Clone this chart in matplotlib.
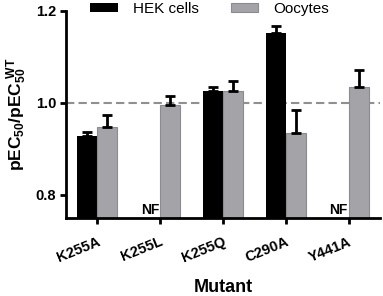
import matplotlib
matplotlib.use('Agg')
import matplotlib.pyplot as plt
import numpy as np

plt.rcParams['font.family'] = ['Liberation Sans', 'DejaVu Sans']
plt.rcParams['mathtext.fontset'] = 'custom'
plt.rcParams['mathtext.rm'] = 'Liberation Sans'
plt.rcParams['mathtext.bf'] = 'Liberation Sans:bold'

mutants = ['K255A', 'K255L', 'K255Q', 'C290A', 'Y441A']
hek = [0.928, np.nan, 1.026, 1.152, np.nan]
hek_err = [0.008, 0, 0.008, 0.015, 0]
oocytes = [0.948, 0.996, 1.026, 0.935, 1.035]
oocytes_err = [0.026, 0.019, 0.022, 0.05, 0.037]
nf_idx = [1, 4]

fig = plt.figure(figsize=(3.83, 2.96), dpi=100)
ax = fig.add_axes([0.172, 0.264, 0.82, 0.699])

x = np.arange(len(mutants))
w = 0.32
base = 0.75
hek_h = [v - base for v in hek]
ooc_h = [v - base for v in oocytes]

ax.bar(x - w/2, hek_h, w, bottom=base, color='black', label='HEK cells', zorder=2)
ax.bar(x + w/2, ooc_h, w, bottom=base, color='#a4a4a8', edgecolor='#8c8c90',
       linewidth=0.8, label='Oocytes', zorder=2)
ax.errorbar(x - w/2, hek, yerr=[np.zeros(5), hek_err], fmt='none', ecolor='black',
            elinewidth=2, capsize=3.6, capthick=2, zorder=3)
ax.errorbar(x + w/2, oocytes, yerr=[np.zeros(5), oocytes_err], fmt='none', ecolor='black',
            elinewidth=2, capsize=3.6, capthick=2, zorder=3)

for i in nf_idx:
    ax.text(i - w/2, base + 0.002, 'NF', ha='center', va='bottom',
            fontsize=10, fontweight='bold')

ax.axhline(1.0, color='#909090', linestyle=(0, (4, 2)), linewidth=1.5, zorder=1)

ax.set_xlim(-0.5, 4.5)
ax.set_ylim(0.75, 1.2)
ax.set_yticks([0.8, 1.0, 1.2])
ax.set_yticklabels(['0.8', '1.0', '1.2'], fontsize=10.5, fontweight='bold')
ax.set_xticks(x)
ax.set_xticklabels(mutants, fontsize=10.5, fontweight='bold', rotation=22,
                   ha='right', rotation_mode='anchor')

for s in ['top', 'right']:
    ax.spines[s].set_visible(False)
for s in ['left', 'bottom']:
    ax.spines[s].set_linewidth(2)
ax.tick_params(width=2, length=4, direction='out', pad=3)
ax.tick_params(axis='x', pad=8)

ax.set_ylabel(r'$\mathbf{pEC_{50}/pEC_{50}^{\ WT}}$', fontsize=12.5, labelpad=5)
ax.set_xlabel('Mutant', fontsize=13, fontweight='bold', labelpad=10)

ax.legend(loc='center left', bbox_to_anchor=(90/383, 1 - 9/296), bbox_transform=fig.transFigure,
          ncol=2, frameon=False, fontsize=11, handlelength=1.8, handleheight=0.45,
          handletextpad=1.0, columnspacing=2.1, borderpad=0, borderaxespad=0)

fig.savefig('out.png', dpi=100)
